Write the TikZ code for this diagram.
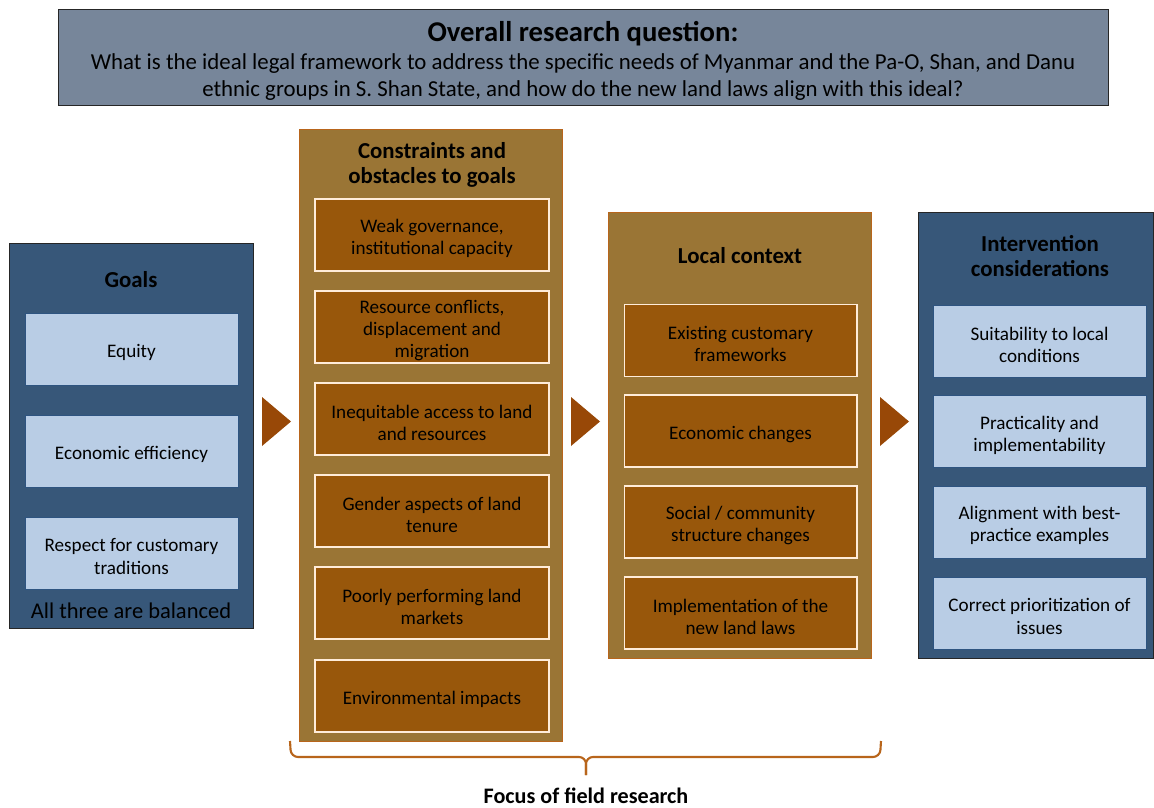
\documentclass[tikz,border=0pt]{standalone}
\usepackage{fontspec}
\setmainfont{Carlito}
\usetikzlibrary{positioning}
\definecolor{questiongray}{RGB}{119,134,154}
\definecolor{paneblue}{RGB}{55,87,121}
\definecolor{paleblue}{RGB}{185,205,229}
\definecolor{paleblueline}{RGB}{46,84,128}
\definecolor{panebrown}{RGB}{154,117,53}
\definecolor{panebrownline}{RGB}{184,101,27}
\definecolor{deepbrown}{RGB}{152,87,11}
\definecolor{chevronbrown}{RGB}{152,72,7}
\tikzset{
  panel/.style={anchor=north west, inner sep=0pt},
  bluepanel/.style={panel, fill=paneblue, draw=black!85, line width=0.8pt},
  brownpanel/.style={panel, fill=panebrown, draw=panebrownline, line width=0.8pt},
  head/.style={font=\fontsize{13}{14.7}\selectfont\bfseries, align=center},
  bluebox/.style={fill=paleblue, draw=paleblueline, line width=0.5pt, minimum width=4.26cm, minimum height=1.44cm},
  brownbox/.style={fill=deepbrown, draw=white!85!orange, line width=0.6pt, minimum height=1.44cm},
  boxtext/.style={align=center, font=\fontsize{10.9}{12.6}\selectfont},
  chevron/.style={fill=chevronbrown},
}
\begin{document}
\begin{tikzpicture}[x=0.02cm,y=-0.02cm]
\useasboundingbox (0,0) rectangle (1154,808);
% research question
\node[panel, fill=questiongray, draw=black!85, line width=0.8pt, minimum width=21cm, minimum height=1.92cm] (question) at (58,9) {};
\node[font=\fontsize{16.3}{18}\selectfont\bfseries] (questiontitle) at (583,33.5) {Overall research question:};
\node[font=\fontsize{13}{15.3}\selectfont, align=center] (questiontext) at (583,77) {What is the ideal legal framework to address the specific needs of Myanmar and the Pa-O, Shan, and Danu\\ethnic groups in S. Shan State, and how do the new land laws align with this ideal?};
% goals
\node[bluepanel, minimum width=4.88cm, minimum height=7.7cm] (goals) at (9,243) {};
\node[head] (goalshead) at (131,279.5) {Goals};
\foreach \name/\y/\txt in {equity/349/{Equity}, efficiency/451/{Economic efficiency}, respect/553/{Respect for customary\\traditions}} {
  \node[bluebox] (\name) at (131.5,\y) {};
  \node[boxtext] (\name-text) at ([yshift=-0.07cm]\name.center) {\txt};
}
\node[font=\fontsize{12.8}{14}\selectfont] (balanced) at (131,610.5) {All three are balanced};
% constraints
\node[brownpanel, minimum width=5.26cm, minimum height=12.24cm] (constraints) at (299,129) {};
\node[head] (constraintshead) at (432,165) {Constraints and\\obstacles to goals};
\foreach \name/\y/\txt in {governance/235/{Weak governance,\\institutional capacity}, conflicts/327/{Resource conflicts,\\displacement and\\migration}, access/419/{Inequitable access to land\\and resources}, gender/511/{Gender aspects of land\\tenure}, markets/603/{Poorly performing land\\markets}, environment/696/{Environmental impacts}} {
  \node[brownbox, minimum width=4.68cm] (\name) at (432,\y) {};
  \node[boxtext] (\name-text) at ([yshift=-0.07cm]\name.center) {\txt};
}
% local context
\node[brownpanel, minimum width=5.26cm, minimum height=8.92cm] (context) at (608,212) {};
\node[head] (contexthead) at (740,255.5) {Local context};
\foreach \name/\y/\txt in {customary/340.5/{Existing customary\\frameworks}, economic/431/{Economic changes}, social/522/{Social / community\\structure changes}, laws/613/{Implementation of the\\new land laws}} {
  \node[brownbox, minimum width=4.66cm] (\name) at (740.5,\y) {};
  \node[boxtext] (\name-text) at ([yshift=-0.07cm]\name.center) {\txt};
}
% interventions
\node[bluepanel, minimum width=4.7cm, minimum height=8.92cm] (intervention) at (918,212) {};
\node[head] (interventionhead) at (1040,256) {Intervention\\considerations};
\foreach \name/\y/\txt in {suitability/341/{Suitability to local\\conditions}, practicality/431.5/{Practicality and\\implementability}, alignment/522/{Alignment with best-\\practice examples}, priorities/613/{Correct prioritization of\\issues}} {
  \node[bluebox] (\name) at (1039.5,\y) {};
  \node[boxtext] (\name-text) at ([yshift=-0.07cm]\name.center) {\txt};
}
% arrows between panels
\foreach \x in {262,571,880}
  \fill[chevron] (\x,397) -- (\x+29,421.5) -- (\x,446) -- cycle;
% brace
\coordinate (braceleft) at (290,741);
\coordinate (braceright) at (881,741);
\coordinate (bracetip) at (586,775);
\draw[panebrownline, line width=1.2pt, rounded corners=4pt] (braceleft) -- (291,757) -- (586,757) -- (bracetip);
\draw[panebrownline, line width=1.2pt, rounded corners=4pt] (braceright) -- (880,757) -- (586,757) -- (bracetip);
\node[font=\fontsize{12.6}{14}\selectfont\bfseries] (focus) at (586,795.5) {Focus of field research};
\end{tikzpicture}
\end{document}
